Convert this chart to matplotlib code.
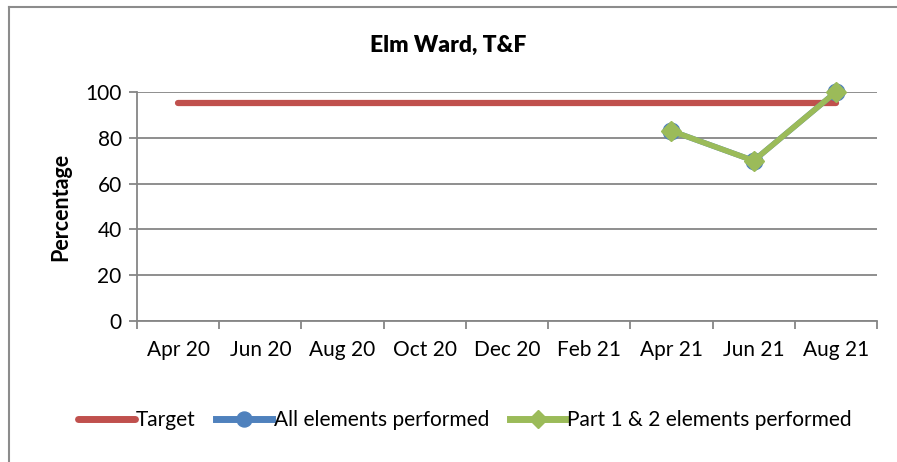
import numpy as np
import matplotlib.pyplot as plt
from matplotlib.lines import Line2D

plt.rcParams['font.family'] = ['Lato', 'DejaVu Sans']

# Data
months = ['Apr 20', 'Jun 20', 'Aug 20', 'Oct 20', 'Dec 20', 'Feb 21', 'Apr 21', 'Jun 21', 'Aug 21']
target = [95, 95, 95, 95, 95, 95, 95, 95, 95]
all_elements = [np.nan, np.nan, np.nan, np.nan, np.nan, np.nan, 83, 70, 100]
part_1_2 = [np.nan, np.nan, np.nan, np.nan, np.nan, np.nan, 83, 70, 100]

red = '#C0504D'
blue = '#4F81BD'
green = '#9BBB59'
grey = '#868686'

fig = plt.figure(figsize=(8.97, 4.62), dpi=100)

# chart area border (only left and top visible)
fig.add_artist(Line2D([8.5 / 897, 8.5 / 897], [0, 1 - 6.5 / 462], color='#8C8C8C', lw=1.5))
fig.add_artist(Line2D([8.5 / 897, 1], [1 - 6.5 / 462, 1 - 6.5 / 462], color='#8C8C8C', lw=1.5))

ax = fig.add_axes([137 / 897, 1 - 321 / 462, 740 / 897, 229 / 462])
x = np.arange(len(months))

ax.plot(x, target, color=red, lw=4.5, solid_capstyle='round', label='Target', zorder=3)
ax.plot(x, all_elements, color=blue, lw=4, marker='o', ms=12, label='All elements performed',
        zorder=4, clip_on=False)
ax.plot(x, part_1_2, color=green, lw=4, marker='D', ms=10, label='Part 1 & 2 elements performed',
        zorder=5, clip_on=False)

ax.set_xlim(-0.5, len(months) - 0.5)
ax.set_ylim(0, 100)
ax.set_yticks(np.arange(0, 101, 20))
ax.set_xticks(x)
ax.set_xticklabels(months)
ax.set_xticks(np.arange(-0.5, len(months)), minor=True)
ax.tick_params(axis='x', which='major', length=0, pad=14, labelsize=15)
ax.tick_params(axis='x', which='minor', length=6, width=1.3, color=grey, direction='out')
ax.tick_params(axis='y', length=6, width=1.3, color=grey, labelsize=15, pad=5)
ax.grid(axis='y', color=grey, lw=1.3)
ax.set_axisbelow(True)

for side in ['top', 'right']:
    ax.spines[side].set_visible(False)
for side in ['left', 'bottom']:
    ax.spines[side].set_color(grey)
    ax.spines[side].set_linewidth(1.3)

ax.set_ylabel('Percentage', fontsize=15.5, fontweight='bold', labelpad=10)
fig.text(0.5, 1 - 45 / 462, 'Elm Ward, T&F', ha='center', va='center', fontsize=16.5, fontweight='heavy')

leg = fig.legend(loc='center', bbox_to_anchor=(465 / 897, 1 - 420 / 462), ncol=3, frameon=False,
                 fontsize=15, handlelength=2.7, handletextpad=0.05, columnspacing=1.0, markerscale=0.9)
for line in leg.get_lines():
    line.set_linewidth(5)

fig.savefig('out.png', dpi=100)
